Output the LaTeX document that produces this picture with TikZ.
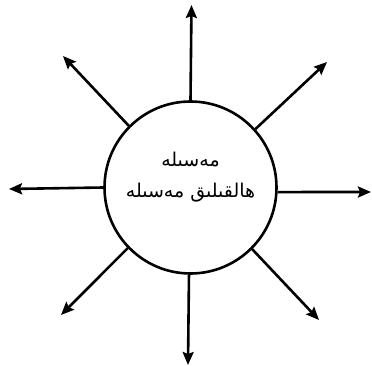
\documentclass[tikz,border=0pt]{standalone}
\usepackage{fontspec}
\TeXXeTstate=1
\newfontfamily\uyfont[Script=Arabic]{DejaVu Sans}
\usetikzlibrary{arrows.meta}
\begin{document}
\begin{tikzpicture}[x=1pt,y=-1pt,
  ray/.style={line width=2.6pt,-{Stealth[length=13pt,width=11pt,inset=2pt]}},
  ring/.style={circle,draw,line width=2.6pt,minimum size=172pt,inner sep=0pt}]
\useasboundingbox (0,0) rectangle (372,366);
\node[ring] (c) at (190.5,187.5) {};
\node[font=\uyfont\fontsize{19}{31}\selectfont,align=center] (lbl) at (190.5,177)
  {\beginR مەسىلە\endR\\\beginR ھالقىلىق مەسىلە\endR};
\coordinate (tN) at (191.5,5);
\coordinate (tS) at (188,365);
\coordinate (tW) at (9,189);
\coordinate (tE) at (371,192);
\coordinate (tNW) at (63,56);
\coordinate (tNE) at (327,62);
\coordinate (tSW) at (61,315);
\coordinate (tSE) at (319,320);
\draw[ray] (c.90) -- (tN);
\draw[ray] (c.269) -- (tS);
\draw[ray] (c.180) -- (tW);
\draw[ray] (c.357) -- (tE);
\draw[ray] (c.135) -- (tNW);
\draw[ray] (c.42) -- (tNE);
\draw[ray] (c.224) -- (tSW);
\draw[ray] (c.315) -- (tSE);
\end{tikzpicture}
\end{document}
